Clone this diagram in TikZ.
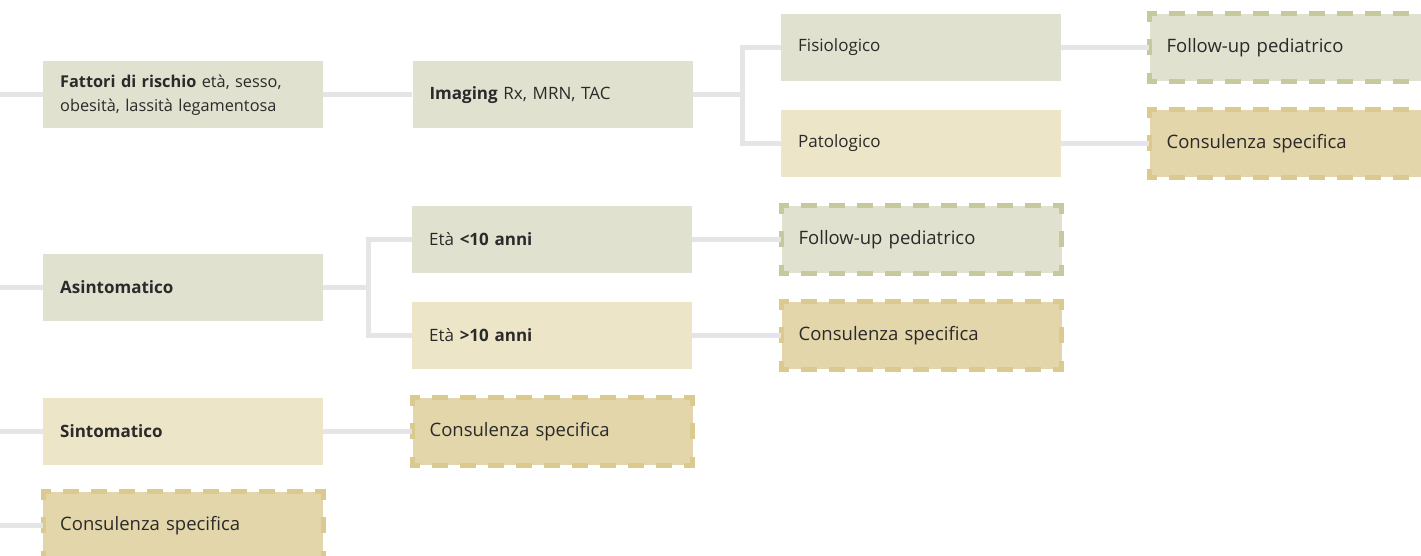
\documentclass[tikz,border=0pt]{standalone}
\usepackage{fontspec}
\setmainfont{Open Sans}
\usetikzlibrary{positioning}
\definecolor{verde}{HTML}{E1E1CF}
\definecolor{verdebordo}{HTML}{C8C8A0}
\definecolor{beige}{HTML}{EDE5C8}
\definecolor{oro}{HTML}{E3D6AA}
\definecolor{orobordo}{HTML}{DBCA8F}
\definecolor{grigio}{HTML}{E5E5E8}
\definecolor{testo}{HTML}{2A2A2A}
\tikzset{node distance=89pt,
  box/.style={rectangle,anchor=west,minimum height=67pt,text width=246pt,
    inner xsep=17pt,inner ysep=0pt,align=left,text=testo,
    font=\fontsize{17}{24}\selectfont},
  piano/.style={box,fill=verde},
  giallo/.style={box,fill=beige},
  hdash/.style={draw=#1,line width=5pt,line cap=rect,
    dash pattern=on 11pt off 17pt,dash phase=5.5pt},
  vdash/.style={draw=#1,line width=5pt,line cap=rect,
    dash pattern=on 11pt off 22.5pt,dash phase=5.5pt},
  dashbox/.style={box,font=\fontsize{18.5}{24}\selectfont,
    append after command={
      (\tikzlastnode.north west) edge[hdash=#1] (\tikzlastnode.north east)
      (\tikzlastnode.south west) edge[hdash=#1] (\tikzlastnode.south east)
      (\tikzlastnode.north west) edge[vdash=#1] (\tikzlastnode.south west)
      (\tikzlastnode.north east) edge[vdash=#1] (\tikzlastnode.south east)}},
  follow/.style={dashbox=verdebordo,fill=verde},
  consul/.style={dashbox=orobordo,fill=oro},
  link/.style={draw=grigio,line width=5pt}}

\begin{document}
\begin{tikzpicture}[x=1pt,y=-1pt]
  \clip (0,0) rectangle (1421,556);

  % prima colonna
  \node [piano,font=\fontsize{16.3}{24}\selectfont] (fattori) at (43,95)
    {\textbf{Fattori di rischio} età, sesso,\\obesità, lassità legamentosa};
  \node [piano]  (asint)   at (43,287)   {\textbf{Asintomatico}};
  \node [giallo] (sint)    at (43,431.5) {\textbf{Sintomatico}};
  \node [consul] (cons1)   at (43,525.5) {Consulenza specifica};

  % seconda colonna
  \node [piano]  (imaging) [right=of fattori] {\textbf{Imaging} Rx, MRN, TAC};
  \node [piano]  (eta1)    at (412,239.5) {Età \textbf{<10 anni}};
  \node [giallo] (eta2)    at (412,335.5) {Età \textbf{>10 anni}};
  \node [consul] (cons2)   [right=of sint] {Consulenza specifica};

  % terza colonna
  \node [piano]  (fisio) at (781,47.5)  {Fisiologico};
  \node [giallo] (pato)  at (781,143.5) {Patologico};
  \node [follow] (fup3)  [right=of eta1] {Follow-up pediatrico};
  \node [consul] (cons3) [right=of eta2] {Consulenza specifica};

  % quarta colonna
  \node [follow] (fup4)  [right=88pt of fisio] {Follow-up pediatrico};
  \node [consul] (cons4) [right=88pt of pato]  {Consulenza specifica};

  \coordinate (in1) at (0,95);
  \coordinate (in2) at (0,287);
  \coordinate (in3) at (0,431.5);
  \coordinate (in4) at (0,525.5);
  \coordinate (fork1) at (742,95);
  \coordinate (fork2) at (368,287);

  \draw [link] (in1) -- (fattori);
  \draw [link] (in2) -- (asint);
  \draw [link] (in3) -- (sint);
  \draw [link] (in4) -- (cons1);

  \draw [link] (fattori) -- (imaging);
  \draw [link] (imaging) -- (fork1) |- (fisio);
  \draw [link] (fork1) |- (pato);
  \draw [link] (fisio) -- (fup4);
  \draw [link] (pato) -- (cons4);

  \draw [link] (asint) -- (fork2) |- (eta1);
  \draw [link] (fork2) |- (eta2);
  \draw [link] (eta1) -- (fup3);
  \draw [link] (eta2) -- (cons3);
  \draw [link] (sint) -- (cons2);
\end{tikzpicture}
\end{document}
